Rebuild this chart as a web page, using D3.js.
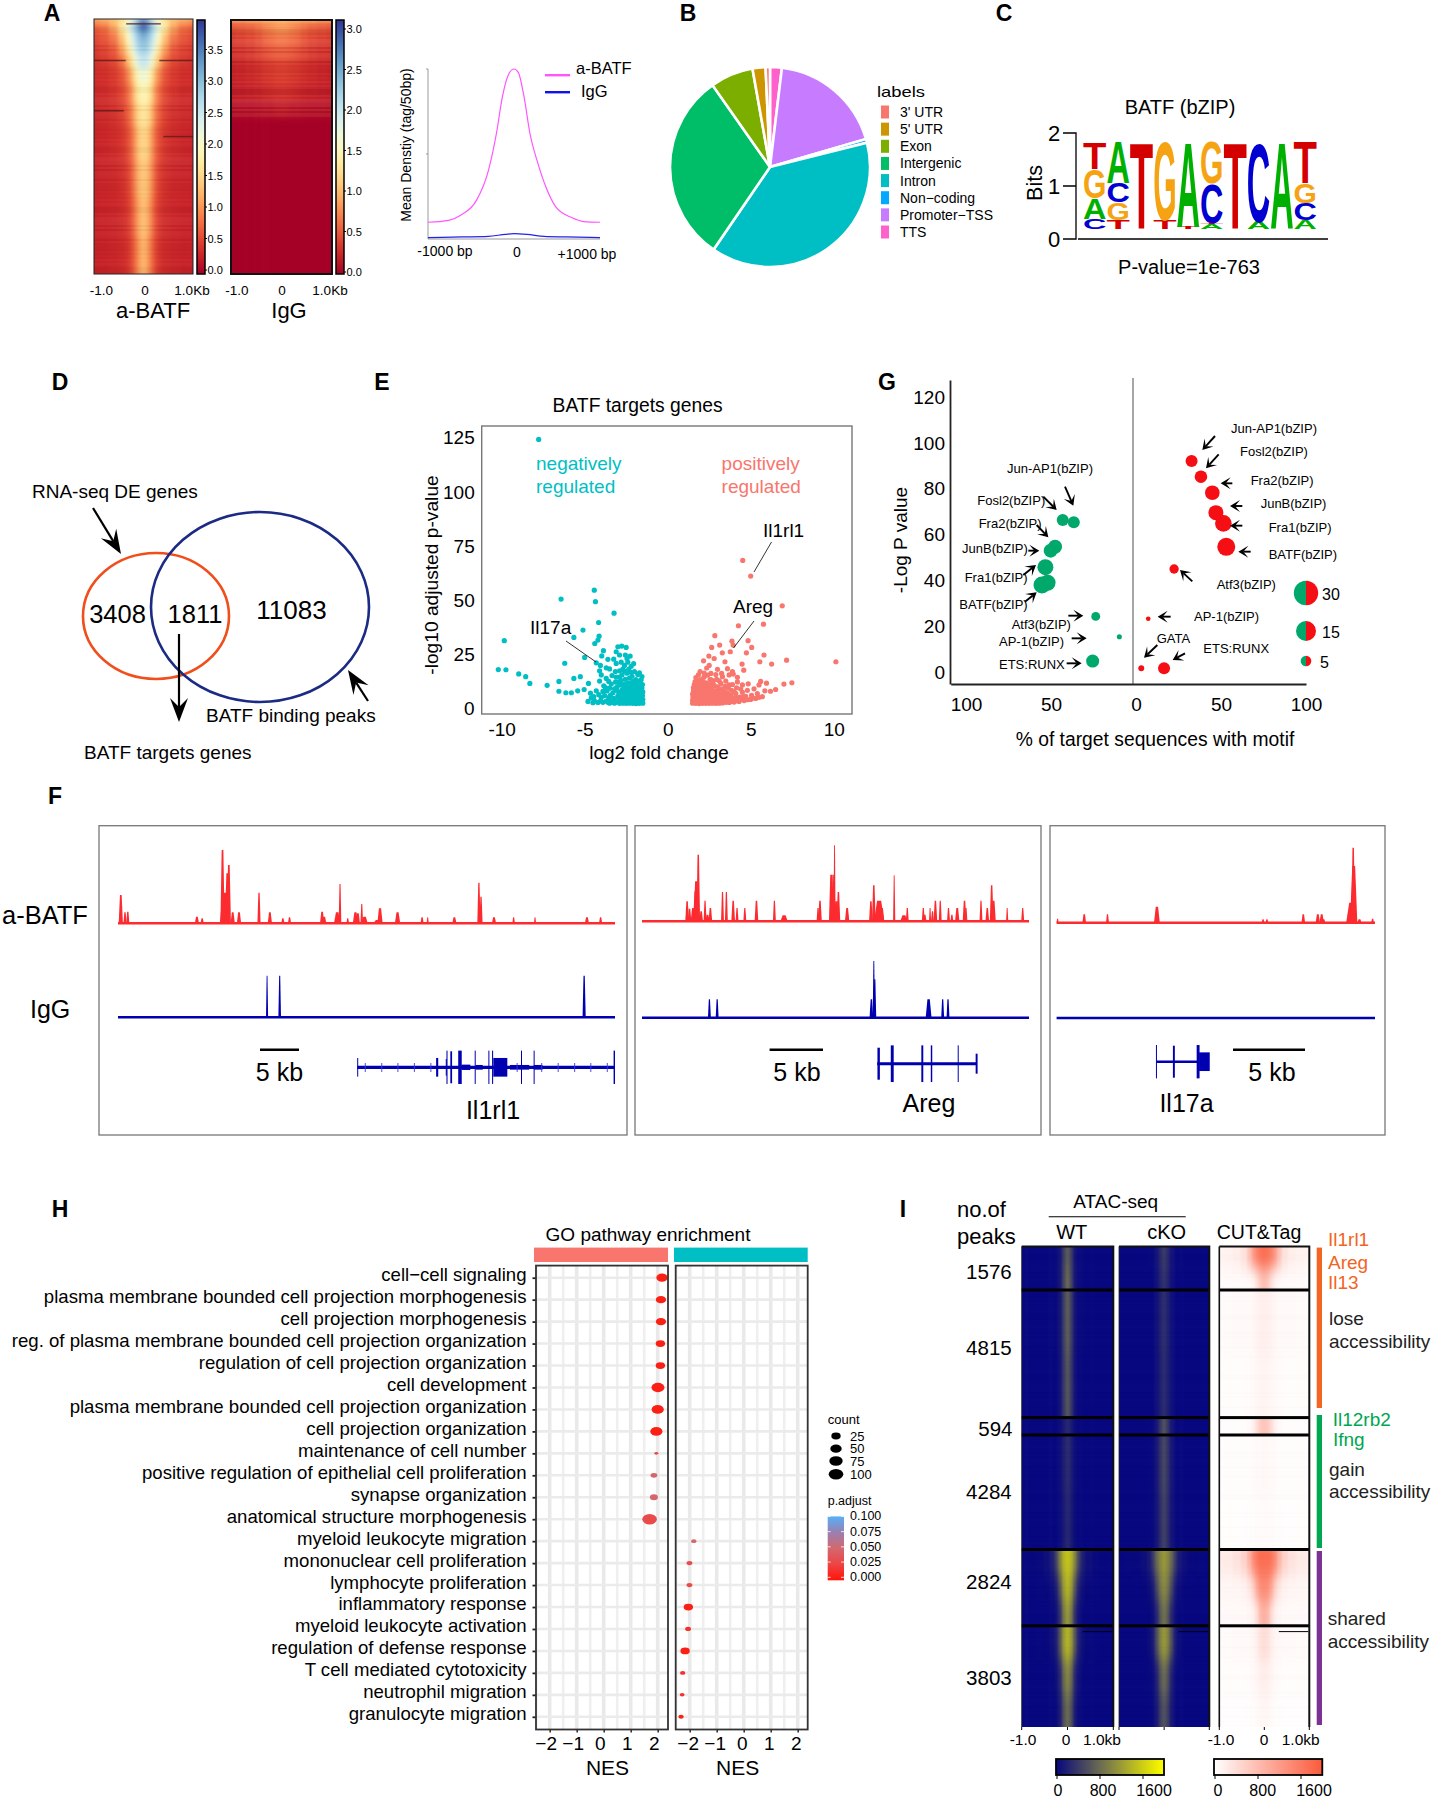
<!DOCTYPE html>
<html><head><meta charset="utf-8">
<script src="https://cdn.jsdelivr.net/npm/d3@7/dist/d3.min.js"></script>
<style>html,body{margin:0;padding:0;background:#fff}svg{display:block}text{font-family:"Liberation Sans",Arial,sans-serif}</style>
</head><body><div id="chart"></div>
<script>
// ---------- DATA ----------
const panelLetters=[["A",52,13],["B",688,13],["C",1004,13],["D",60,382],["E",382,382],["G",887,382],["F",55,796],["H",60,1209],["I",903,1209]];
const heatDist=[0,.08,.16,.24,.32,.44,.6,.8,1];
const batfEdges=[0,.012,.03,.06,.1,.14,.19,.25,.33,.42,.55,.7,.85,1];
const batfRows=[[3.0,2.8,2.4,2.0,1.8,1.5,1.3,1.2,1.1],[3.9,3.6,3.0,2.6,2.2,1.7,1.2,.9,.8],[3.4,3.1,2.8,2.4,2.0,1.5,1.0,.7,.6],[3.0,2.9,2.6,2.2,1.8,1.2,.75,.55,.45],[2.8,2.7,2.4,2.0,1.5,1.0,.6,.45,.38],[2.5,2.4,2.1,1.6,1.2,.75,.5,.4,.34],[2.1,2.0,1.7,1.2,.85,.55,.4,.33,.3],[1.8,1.75,1.45,1.0,.7,.48,.36,.3,.28],[1.6,1.55,1.25,.85,.6,.42,.33,.28,.26],[1.45,1.4,1.05,.72,.5,.36,.3,.26,.24],[1.35,1.25,.95,.62,.42,.32,.27,.25,.23],[1.3,1.15,.85,.55,.38,.3,.26,.24,.22],[1.25,1.05,.75,.5,.34,.28,.25,.23,.22]];
const iggEdges=[0,.012,.05,.1,.16,.25,.32,.38,.4,1];
const iggRows=[[1.0,1.0,.95,.95,.95,.9,.9,.85,.85],[.82,.82,.78,.74,.7,.62,.55,.52,.48],[.66,.66,.62,.6,.56,.48,.42,.38,.35],[.52,.52,.5,.48,.45,.4,.35,.31,.29],[.38,.38,.36,.35,.33,.29,.26,.24,.22],[.29,.29,.28,.26,.25,.22,.21,.19,.18],[.17,.17,.15,.14,.14,.12,.11,.11,.1],[.04,.04,.03,.03,.03,.03,.02,.02,.02],[0,0,0,0,0,0,0,0,0]];
const batfDark=[[.016,-.35,.35],[.16,-1,-.36],[.16,.32,1],[.357,-1,-.4],[.458,.4,1]];
const streakPattern=[.05,-.06,.02,.09,-.03,-.08,.04,0,.07,-.05,.1,-.02,-.07,.03,.06,-.09,.01,.08,-.04,.05,-.1,.02,.06,-.03,.09,-.06,0,.04,-.08,.07];
const profBp=[-1000,-760,-620,-435,-296,-204,-134,-65,0,50,116,185,278,370,486,671,810,1000];
const profBatf=[.197,.22,.28,.457,.811,1.244,1.677,1.933,2,1.96,1.677,1.244,.89,.614,.378,.252,.205,.197];
const profIggBp=[-1000,-600,-300,-100,0,150,350,600,1000];
const profIgg=[.016,.024,.031,.055,.063,.055,.031,.024,.016];
const pieLabels=["3' UTR","5' UTR","Exon","Intergenic","Intron","Non\u2212coding","Promoter\u2212TSS","TTS"];
const pieValues=[.7,2.1,6.9,30.6,38.3,.6,18.5,1.9];
const pieColors=["#F8766D","#CD9600","#7CAE00","#00BE67","#00BFC4","#00A9FF","#C77CFF","#FF61CC"];
const logoPositions=[[["C",.2],["A",.4],["G",.55],["T",.51]],[["T",.18],["G",.33],["C",.37],["A",.8]],[["T",1.66]],[["T",.17],["G",1.5]],[["T",.05],["A",1.63]],[["A",.1],["T",.03],["C",.75],["G",.8]],[["T",1.66]],[["A",.15],["C",1.5]],[["A",1.66]],[["A",.17],["C",.33],["G",.37],["T",.8]]];
const volcanoNeg=[[-7.77,124.2],[-4.42,54.7],[-6.42,50.6],[-4.35,49.4],[-3.23,44.1],[-4.16,39.8],[-5.1,36.3],[-5.65,32.9],[-4.13,33.5],[-4.2,31.7],[-9.84,31.4],[-4.39,30.1],[-5,23.7],[-6.2,21],[-4.3,21.2],[-10.2,18.1],[-9.74,18],[-8.97,16.1],[-8.55,14.8],[-8.3,11.7],[-7.26,10.8],[-6.55,12.6],[-5.65,14],[-5.26,14.8],[-4.77,11.7],[-6.55,8.1],[-6.13,7.4],[-5.8,7.4],[-5.42,8.3],[-5.03,8.9],
[-1.5,2.6],[-1.5,4.3],[-1.52,6.1],[-1.5,7.8],[-1.55,9.6],[-1.52,11.2],[-1.6,13.4],[-1.55,14.9],[-1.7,2.5],[-1.72,3.9],[-1.68,5.4],[-1.74,7],[-1.7,8.8],[-1.76,10.4],[-1.7,12.2],[-1.8,15.8],[-1.9,2.4],[-1.92,4.6],[-1.88,6.3],[-1.94,8.1],[-1.9,9.7],[-1.96,11.6],[-1.92,13.5],[-2,17.2],[-2.1,2.5],[-2.12,3.6],[-2.08,5.2],[-2.14,7.2],[-2.1,8.9],[-2.16,10.6],[-2.1,12.7],[-2.15,15],[-2.3,2.6],[-2.32,4.4],[-2.28,6.2],[-2.34,7.9],[-2.3,10],[-2.36,12],[-2.3,14.2],[-2.2,19.6],[-2.05,20.8],[-2.5,2.5],[-2.52,3.8],[-2.48,5.6],[-2.56,7.4],[-2.5,9.3],[-2.6,11.3],[-2.55,13.6],[-2.45,16.4],[-2.35,18.2],[-2.4,21.5],[-2.7,2.6],[-2.72,4.7],[-2.68,6.6],[-2.75,8.6],[-2.7,10.7],[-2.8,13],[-2.75,15.6],[-2.6,20],[-2.55,24.8],
[-2.9,2.5],[-2.92,4],[-3,6],[-2.95,7.8],[-3.05,10],[-3,12.2],[-3.1,14.6],[-2.9,17.5],[-3.1,20.9],[-2.9,24.8],[-3.1,26.3],[-3,28.6],[-2.77,28.9],[-2.5,28.3],[-2.26,24.3],[-3.2,2.6],[-3.25,4.8],[-3.3,7.4],[-3.2,9.2],[-3.4,11.4],[-3.35,15.3],[-3.5,18.4],[-3.6,22.8],[-3.87,26.8],[-3.97,24.4],[-3.5,2.6],[-3.55,5.2],[-3.7,3.6],[-3.65,8.2],[-3.8,6.1],[-3.9,3],[-3.85,10.6],[-4,15.6],[-4.1,12.8],[-4,5.2],[-4.2,2.9],[-4.3,8.3],[-4.4,3.6],[-4.5,2.8],[-4.6,5],[-4.1,17.5],[-3.7,14],[-3.4,3.5],[-3.05,3.2],[-2.8,5.6],[-2.85,11],[-3.15,17.2],[-3.55,12.6],[-3.9,8],[-4.65,7.2],[-3.25,22.9],[-2.8,21.5],[-2.7,18.3],[-3.7,18.9],[-4.05,20],[-2.45,23.2],
[-1.6,3.3],[-1.6,5],[-1.65,6.8],[-1.62,8.3],[-1.6,10.4],[-1.8,3.2],[-1.82,5.2],[-1.84,6.9],[-1.8,9],[-1.85,11],[-1.85,12.9],[-2,3.1],[-2.02,4.3],[-2,6],[-2.02,7.7],[-2,9.5],[-2.02,11.5],[-2.2,3.3],[-2.22,5],[-2.2,6.8],[-2.24,8.6],[-2.22,11.3],[-2.4,3.2],[-2.42,5],[-2.4,6.9],[-2.44,8.6],[-2.42,11],[-2.6,3.2],[-2.62,5],[-2.6,6.5],[-2.65,9.2],[-2.8,3.3],[-2.82,7.5],[-3.1,4.5],[-3.1,8.6],[-3.35,3],[-3.45,6.2],[-3.6,3],[-3.75,9.8],[-4.05,3.6],[-4.15,6.5],[-4.45,5.6],[-4.8,3.4],[-3.5,9.5],[-3.15,12.3],[-2.9,14.6],[-2.6,17.4],[-2.2,16.8],[-1.7,16.6]];
const volcanoPos=[[4.52,68.4],[5,61.2],[6.9,47.5],[4.26,38.3],[5.77,39],[2.84,33.7],[3.87,31.2],[4.84,31.4],[3.94,29.4],[3.13,29.4],[2.65,28.3],[5.06,28.3],[3.77,26.3],[3.29,25.8],[4.74,25.8],[5.8,24.8],[2.48,24.3],[2.16,22.1],[2.8,23.2],[3.45,21.7],[7.16,22.4],[10.13,21.7],[5.55,21.7],[6.26,20.6],[4.48,20.6],
[1.5,2.6],[1.5,3.9],[1.52,5.4],[1.5,6.8],[1.55,8.2],[1.55,9.7],[1.6,11.1],[1.7,2.5],[1.72,4.3],[1.68,5.9],[1.74,7.6],[1.7,9.2],[1.78,10.8],[1.75,12.6],[1.7,14.4],[1.9,2.4],[1.92,3.7],[1.88,5.1],[1.94,6.7],[1.9,8.4],[1.96,10.1],[1.92,11.9],[1.98,13.5],[1.85,15.6],[1.95,17.2],[2.1,2.5],[2.12,4.1],[2.08,5.8],[2.14,7.3],[2.1,9],[2.16,10.7],[2.12,12.5],[2.18,14.6],[2.3,2.5],[2.32,3.6],[2.28,5.3],[2.34,6.9],[2.3,8.5],[2.36,10.2],[2.3,12],[2.4,15.5],[2.35,18.8],[2.5,2.5],[2.52,4.4],[2.48,6.2],[2.56,7.9],[2.5,9.6],[2.6,11.5],[2.55,13.4],[2.6,16.3],[2.7,2.6],[2.72,3.9],[2.68,5.5],[2.75,7.2],[2.7,8.9],[2.8,10.8],[2.75,12.9],[2.9,2.5],[2.92,4.6],[2.9,6.4],[2.95,8.2],[3,10.1],[2.95,13.6],[2.9,15.8],[3.1,2.6],[3.12,3.8],[3.1,5.5],[3.15,7.3],[3.2,9.2],[3.2,11.7],[3.3,14.8],[3.3,2.7],[3.32,4.5],[3.35,6.5],[3.4,8.4],[3.45,10.4],[3.5,12.8],[3.5,3],[3.55,5.2],[3.6,7.2],[3.65,9.5],[3.7,2.9],[3.75,4.3],[3.8,6.3],[3.85,8.5],[3.9,11.2],[4,3.1],[4,5],[4.1,7.1],[4.15,9.7],[4.2,12.4],[4.3,3.4],[4.35,5.4],[4.5,7.6],[4.6,3.8],[4.7,5.7],[4.8,8.5],[4.85,11.5],[5,4.3],[5.05,6.2],[5.2,9.2],[5.3,4.8],[5.4,7],[5.5,11],[5.6,12.6],[5.7,5.6],[5.85,8.3],[5.95,11.8],[6.19,8.1],[6.5,8.9],[7,11.4],[7.48,12],[3.9,17.1],[3.7,15.6],[3.6,18.5],[3.95,16],[3,18.2],[2.5,20],[4.58,17.8],[3.25,16.3],[4.2,14.5],[4.5,11],
[1.6,3.2],[1.6,4.6],[1.62,6.2],[1.6,7.7],[1.62,9],[1.8,3.1],[1.82,4.8],[1.8,6.5],[1.84,8],[1.8,10],[2,3.1],[2,4.6],[2.02,6.1],[2,7.7],[2.02,9.3],[2,11],[2.2,3.1],[2.2,4.6],[2.22,6.4],[2.24,8],[2.2,9.8],[2.25,11.4],[2.4,3.2],[2.42,4.8],[2.42,6.1],[2.4,7.8],[2.45,9.2],[2.45,11],[2.6,3.1],[2.62,4.8],[2.6,6.4],[2.65,8.2],[2.65,10],[2.8,3.1],[2.82,4.6],[2.8,6.3],[2.85,8],[3,3.2],[3,4.7],[3.02,6.5],[3.05,8.6],[3.2,3.2],[3.22,4.7],[3.25,6.3],[3.3,8],[3.45,3.8],[3.5,6],[3.6,4],[3.75,3.3],[3.9,4.5],[4.1,3.7],[4.2,5],[4.4,4.4],[4.55,5.5],[4.8,4.2],[5.1,5],[5.5,5.3],[3.1,12.9],[2.6,13.5],[2.2,16.5],[1.65,12.5],[3.7,11],[4,7.8],[4.4,9.1]];
const motifKO=[[-36.6,65.4,6.5],[-43.1,66.4,6.5],[-47.6,54.7,8.6],[-50.2,53,8.6],[-53.3,45.8,10.7],[-52,39,10.7],[-55.3,38,11.8],[-23.7,24.3,4.2],[-9.8,15.4,2.4],[-25.5,4.8,7.6]];
const motifWT=[[32.7,92.1,6.5],[38.2,85.3,7.1],[44.9,78.3,9.3],[47,69.6,9.7],[51.4,64.9,11.4],[53.1,54.7,12.9],[22.4,45,4.4],[7.2,23.3,2.2],[3.1,1.7,2.8],[16.5,1.7,6.5]];
const motifLegend=[30,15,5];
const t1Red=[[88,85,8],[100,33,6],[108,35,6],[305,20,8],[320,15,6],[378,220,8],[384,92,18],[392,150,10],[396,175,8],[407,33,8],[425,33,8],[482,92,6],[513,33,8],[550,15,6],[569,18,6],[662,35,8],[668,20,8],[705,33,12],[713,118,5],[735,15,5],[757,33,10],[764,30,8],[775,58,5],[783,20,12],[827,45,10],[820,10,16],[877,33,10],[947,18,6],[963,18,4],[1039,18,8],[1109,122,6],[1115,80,6],[1152,18,8],[1208,18,5],[1269,18,4],[1417,18,8],[1456,18,6]];
const t1Blue=[[505,125,4],[541,125,5],[1409,125,6]];
const t2Red=[[118,60,5],[123,38,5],[130,40,6],[135,90,6],[137,120,8],[141,200,5],[147,30,5],[155,62,4],[160,20,6],[166,40,5],[191,88,4],[199,88,4],[213,62,5],[221,40,4],[237,40,4],[261,62,5],[298,62,4],[318,18,10],[388,40,4],[392,62,5],[415,140,6],[419,140,5],[422,228,3],[430,88,5],[426,60,8],[448,40,6],[497,60,5],[503,108,5],[514,62,14],[520,40,6],[545,138,3],[565,18,10],[572,40,4],[605,40,4],[608,20,5],[619,40,3],[624,30,4],[630,62,5],[640,62,4],[657,40,4],[664,20,4],[675,40,6],[690,62,5],[693,40,4],[724,62,4],[737,40,5],[746,108,5],[750,62,6],[778,40,3],[810,40,4]];
const t2Blue=[[164,55,4],[180,55,4],[498,55,5],[503,170,3],[505,115,4],[616,55,8],[645,55,4],[656,55,4]];
const t3Red=[[882,12,3],[937,25,5],[985,25,4],[1087,48,8],[1306,10,4],[1314,10,4],[1389,25,5],[1419,25,6],[1427,25,6],[1431,10,5],[1488,60,14],[1493,170,10],[1492,225,5],[1505,10,6],[1532,12,4]];
const gene1Exons=[[763,28,2],[990,28,6],[1016,25,3],[1018,50,3],[1030,48,5],[1055,50,10],[1098,50,2],[1137,50,2],[1148,50,3],[1230,50,2],[1266,50,2],[1495,50,4],[1072,8,25],[1110,7,20],[1170,28,40],[1225,7,55],[1278,7,25]];
const gene1Chevrons=[785,832,878,925,972,1218,1288,1335,1382,1428,1475];
const gene2Exons=[[513,48,5],[541,55,6],[603,55,4],[622,55,3],[677,55,2],[715,30,4]];
const gene3Exons=[[1086,50,2],[1122,48,4],[1172,50,6],[1185,28,22]];
const goTerms=["cell\u2212cell signaling","plasma membrane bounded cell projection morphogenesis","cell projection morphogenesis","reg. of plasma membrane bounded cell projection organization","regulation of cell projection organization","cell development","plasma membrane bounded cell projection organization","cell projection organization","maintenance of cell number","positive regulation of epithelial cell proliferation","synapse organization","anatomical structure morphogenesis","myeloid leukocyte migration","mononuclear cell proliferation","lymphocyte proliferation","inflammatory response","myeloid leukocyte activation","regulation of defense response","T cell mediated cytotoxicity","neutrophil migration","granulocyte migration"];
const goNES=[2.16,2.12,2.12,2.1,2.1,2.01,2.0,1.95,1.95,1.86,1.86,1.7,-1.85,-2.01,-2.01,-2.05,-2.06,-2.17,-2.26,-2.28,-2.32];
const goCount=[50,35,35,25,25,70,60,60,5,15,20,100,10,12,12,25,12,25,10,8,10];
const goP=[.006,.006,.006,.006,.006,.006,.006,.006,.03,.05,.05,.03,.05,.03,.03,.006,.015,.006,.015,.015,.006];
const nesTicks=[-2,-1,0,1,2];
const countLegend=[25,50,75,100];
const padjLegend=[.1,.075,.05,.025,0];
const iBandEdges=[1246.4,1290,1417.6,1435,1549.5,1625.8,1727];
const iPeaks=[1576,4815,594,4284,2824,3803];
const iWT=[[[600,380,100,25,5,0,0,0,0],[700,430,110,25,5,0,0,0,0]],[[620,380,95,20,5,0,0,0,0],[560,340,80,15,0,0,0,0,0]],[[230,140,45,10,0,0,0,0,0]],[[260,160,50,12,0,0,0,0,0],[230,140,45,10,0,0,0,0,0]],[[1300,1200,880,450,170,60,20,10,5],[1200,1020,560,180,55,15,5,0,0],[1000,780,300,70,15,0,0,0,0]],[[1200,1020,560,180,55,15,5,0,0],[880,680,240,60,10,0,0,0,0],[700,510,150,30,5,0,0,0,0]]];
const iKO=[[[360,250,80,20,5,0,0,0,0],[300,210,60,12,0,0,0,0,0]],[[280,190,65,15,0,0,0,0,0],[260,175,60,12,0,0,0,0,0]],[[520,340,105,25,5,0,0,0,0]],[[450,310,105,28,5,0,0,0,0],[410,280,90,20,5,0,0,0,0]],[[1000,900,680,380,140,50,15,5,0],[900,770,450,155,45,10,0,0,0],[740,570,215,55,10,0,0,0,0]],[[1000,860,500,155,45,10,0,0,0],[700,530,190,45,5,0,0,0,0],[530,390,120,28,5,0,0,0,0]]];
const iCT=[[[1500,1450,1300,1050,650,300,180,130,110],[650,550,300,120,60,50,40,40,35]],[[160,150,120,80,60,50,50,45,45],[110,100,80,60,40,35,30,30,30]],[[600,550,350,150,60,35,25,25,25]],[[70,65,55,45,35,30,25,25,20],[45,42,38,30,25,20,15,15,15]],[[1500,1500,1400,1200,800,450,300,220,200],[1200,1150,900,500,250,120,90,80,80],[800,700,350,150,80,60,50,50,50]],[[350,300,180,100,70,50,50,45,45],[180,160,100,60,40,30,30,30,30],[90,80,50,30,25,20,20,20,20]]];

// ---------- HELPERS ----------
const svg=d3.select("#chart").append("svg").attr("width",1435).attr("height",1800).attr("viewBox","0 0 1435 1800");
const defs=svg.append("defs");
function T(x,y,s,o={}){const t=(o.g||svg).append("text").attr("x",x).attr("y",y).attr("dominant-baseline","central").attr("font-size",o.size||18).attr("text-anchor",o.anchor||"start").attr("fill",o.fill||"#000").text(s);
 if(o.weight)t.attr("font-weight",o.weight);if(o.rotate!==undefined)t.attr("transform",`rotate(${o.rotate} ${x} ${y})`);if(o.len)t.attr("textLength",o.len).attr("lengthAdjust","spacingAndGlyphs");return t;}
function arrow(x1,y1,x2,y2,o={}){const sw=o.stem||1.6,hl=o.hl||9,hw=o.hw||5,n=o.notch||5;const a=Math.atan2(y2-y1,x2-x1),c=Math.cos(a),s=Math.sin(a);
 const P=(d,w)=>[x2-d*c-w*s,y2-d*s+w*c];
 svg.append("line").attr("x1",x1).attr("y1",y1).attr("x2",P(n,0)[0]).attr("y2",P(n,0)[1]).attr("stroke","#000").attr("stroke-width",sw);
 svg.append("path").attr("d","M"+[[x2,y2],P(hl,hw),P(n,0),P(hl,-hw)].join("L")+"Z").attr("fill","#000");}
let uid=0;
const blurs={};
function blurId(sx,sy){const k=`b${sx}_${sy}`.replace(/\./g,"p");if(!blurs[k]){blurs[k]=1;const f=defs.append("filter").attr("id",k).attr("x","-30%").attr("y","-30%").attr("width","160%").attr("height","160%").attr("color-interpolation-filters","sRGB");f.append("feGaussianBlur").attr("stdDeviation",`${sx} ${sy}`);}return k;}
function heat(x0,x1,y0,y1,edges,rows,color,blur){
 const id="c"+(uid++);defs.append("clipPath").attr("id",id).append("rect").attr("x",x0).attr("y",y0).attr("width",x1-x0).attr("height",y1-y0);
 const g=svg.append("g").attr("clip-path",`url(#${id})`).append("g").attr("filter",`url(#${blurId(blur[0],blur[1])})`);
 const kb=d3.scaleLinear([-1,1],[x0,x1]),fy=d3.scaleLinear([0,1],[y0,y1]);
 const cols=[...heatDist].reverse().map(d=>-d).concat(heatDist.slice(1));
 const cuts=cols.slice(1).map((d,i)=>(d+cols[i])/2);
 const idx=i=>i<heatDist.length?heatDist.length-1-i:i-heatDist.length+1;
 rows.forEach((r,ri)=>{
  const top=ri===0?y0-40:fy(edges[ri]),bot=ri===rows.length-1?y1+40:fy(edges[ri+1]);
  cols.forEach((c,ci)=>{const l=ci===0?x0-40:kb(cuts[ci-1]),rr=ci===cols.length-1?x1+40:kb(cuts[ci]);
   g.append("rect").attr("x",l).attr("y",top).attr("width",rr-l+.6).attr("height",bot-top+.6).attr("fill",color(r[idx(ci)]));});
 });
}
function streaks(x0,x1,y0,y1,strength,step){const g=svg.append("g");d3.range(y0,y1,step).forEach((y,i)=>{const a=streakPattern[(i*7)%streakPattern.length]*strength;if(!a)return;
 g.append("rect").attr("x",x0).attr("y",y).attr("width",x1-x0).attr("height",step).attr("fill",a>0?"#fff":"#000").attr("opacity",Math.abs(a));});}
function grad(color,dom,horizontal){const id="g"+(uid++);const gr=defs.append("linearGradient").attr("id",id).attr("x1",0).attr("y1",horizontal?0:1).attr("x2",horizontal?1:0).attr("y2",0);
 d3.range(0,1.001,.05).forEach(t=>gr.append("stop").attr("offset",t).attr("stop-color",color(dom[0]+t*(dom[1]-dom[0]))));return `url(#${id})`;}

panelLetters.forEach(([l,x,y])=>T(x,y,l,{size:23,weight:"bold",anchor:"middle"}));

// ---------- A ----------
const cA1=v=>d3.interpolateRdYlBu(Math.max(0,Math.min(1,v/3.9)));
const cA2=v=>d3.interpolateRdYlBu(Math.max(0,Math.min(1,v/3.1)));
heat(94,193,19,274,batfEdges,batfRows,v=>cA1(v+.04),[2,3]);
streaks(94,193,19,274,.45,2);
batfDark.forEach(([f,a,b])=>svg.append("rect").attr("x",143.5+a*49.5).attr("width",(b-a)*49.5).attr("y",19+f*255).attr("height",1.5).attr("fill","#5a1a1a").attr("opacity",.75));
svg.append("rect").attr("x",94).attr("y",19).attr("width",99).attr("height",255).attr("fill","none").attr("stroke","#222").attr("stroke-width",1);
heat(231,332,20,274,iggEdges,iggRows,cA2,[1.5,2]);
streaks(231,332,21,116,.8,2);
svg.append("rect").attr("x",231).attr("y",20).attr("width",101).attr("height",254).attr("fill","none").attr("stroke","#111").attr("stroke-width",2);
function colorbarA(x,y0,y1,color,max,ticks,scale){
 svg.append("rect").attr("x",x).attr("y",y0).attr("width",8).attr("height",y1-y0).attr("fill",grad(color,[0,max])).attr("stroke","#000").attr("stroke-width",1.5);
 ticks.forEach(t=>{svg.append("line").attr("x1",x+8).attr("x2",x+10).attr("y1",scale(t)).attr("y2",scale(t)).attr("stroke","#000");
  T(x+10.5,scale(t),t.toFixed(1),{size:11});});}
colorbarA(197,20,274,cA1,3.9,[0,.5,1,1.5,2,2.5,3,3.5],d3.scaleLinear([0,4],[270,18]));
colorbarA(336,20,274,cA2,3.1,[0,.5,1,1.5,2,2.5,3],d3.scaleLinear([0,3],[272,29]));
const kbLabels=["-1.0","0","1.0Kb"];
const kbA1=d3.scaleOrdinal(kbLabels,[101.5,145,192]),kbA2=d3.scaleOrdinal(kbLabels,[237,282,330]);
kbLabels.forEach(l=>{T(kbA1(l),290,l,{size:13.5,anchor:"middle"});T(kbA2(l),290,l,{size:13.5,anchor:"middle"});});
T(153,310,"a-BATF",{size:22,anchor:"middle"});T(289,310,"IgG",{size:22,anchor:"middle"});
const pX=d3.scaleLinear([-1000,1000],[428,600]),pY=d3.scaleLinear([0,2],[239,69]);
const pLine=d3.line().x(d=>pX(d[0])).y(d=>pY(d[1])).curve(d3.curveMonotoneX);
svg.append("path").attr("d",`M428,69H426M428,69V239H600M426,154H428`).attr("fill","none").attr("stroke","#999").attr("stroke-width",1);
svg.append("path").attr("d",pLine(d3.zip(profBp,profBatf))).attr("fill","none").attr("stroke","#ff55ff").attr("stroke-width",1.2);
svg.append("path").attr("d",pLine(d3.zip(profIggBp,profIgg))).attr("fill","none").attr("stroke","#2222ee").attr("stroke-width",1.2);
T(406,145,"Mean Denstiy (tag/50bp)",{size:14,anchor:"middle",rotate:-90});
T(445,251,"-1000 bp",{size:14,anchor:"middle"});T(517,252,"0",{size:14,anchor:"middle"});T(587,254,"+1000 bp",{size:14,anchor:"middle"});
svg.append("rect").attr("x",545).attr("y",74).attr("width",25).attr("height",2.4).attr("fill","#ff55ff");
svg.append("rect").attr("x",545).attr("y",91).attr("width",25).attr("height",2.4).attr("fill","#1111ee");
T(576,68,"a-BATF",{size:16.5});T(581,91,"IgG",{size:16.5});

// ---------- B ----------
const pieData=d3.pie().sort(null).startAngle(0).endAngle(2*Math.PI)(pieValues.slice().reverse());
const pieIdx=pieValues.map((v,i)=>i).reverse();
const arc=d3.arc().innerRadius(0).outerRadius(100);
svg.append("g").attr("transform","translate(770,167)").selectAll("path").data(pieData).join("path").attr("d",arc).attr("fill",(d,i)=>pieColors[pieIdx[i]]).attr("stroke","#fff").attr("stroke-width",2.6);
T(877,91,"labels",{size:15,len:48});
const legY=d3.scaleLinear([0,7],[112,232]);
pieLabels.forEach((l,i)=>{svg.append("rect").attr("x",881).attr("y",legY(i)-6.5).attr("width",8).attr("height",13).attr("fill",pieColors[i]);T(900,legY(i),l,{size:14});});

// ---------- C ----------
T(1180,107,"BATF (bZIP)",{size:20,anchor:"middle"});
const lY=d3.scaleLinear([0,2],[239,133]);
const logoX=d3.scaleBand(d3.range(10),[1083,1317]).paddingInner(0);
const logoColor={T:"#d40000",G:"#f5a313",A:"#00b000",C:"#0000d0"},logoAdv={T:.611,G:.778,A:.722,C:.722};
logoPositions.forEach((stack,i)=>{let b=.18;stack.forEach(([l,h])=>{
 const by=lY(b),hp=lY(0)-lY(h);
 svg.append("text").attr("text-anchor","middle").attr("font-size",100).attr("font-weight","bold").attr("fill",logoColor[l])
  .attr("transform",`translate(${logoX(i)+logoX.bandwidth()/2},${by}) scale(${logoX.bandwidth()/(logoAdv[l]*100)},${hp/72})`).text(l);b+=h;});});
svg.append("path").attr("d",`M1063,${lY(2)}H1076V${lY(0)}H1063M1063,${lY(1)}H1076M1078,${lY(0)}H1328`).attr("fill","none").attr("stroke","#000").attr("stroke-width",1.3);
[2,1,0].forEach(v=>T(1054,lY(v),v,{size:22,anchor:"middle"}));
T(1035,183,"Bits",{size:21.5,anchor:"middle",rotate:-90});
T(1189,267,"P-value=1e-763",{size:20,anchor:"middle"});

// ---------- D ----------
svg.append("ellipse").attr("cx",156).attr("cy",616).attr("rx",73).attr("ry",63).attr("fill","none").attr("stroke","#f04e1a").attr("stroke-width",2.6);
svg.append("ellipse").attr("cx",260).attr("cy",607).attr("rx",109).attr("ry",95).attr("fill","none").attr("stroke","#1b2a85").attr("stroke-width",2.6);
T(117.5,614,"3408",{size:25.5,anchor:"middle"});T(195,614,"1811",{size:25.5,anchor:"middle"});T(291.5,610,"11083",{size:26,anchor:"middle"});
T(32,491,"RNA-seq DE genes",{size:19});T(206,715,"BATF binding peaks",{size:19});T(84,752,"BATF targets genes",{size:19});
arrow(93,508,121,554,{stem:2.2,hl:24,hw:9,notch:15});arrow(179,634,179,722,{stem:2.2,hl:24,hw:9,notch:15});arrow(368,701,348,670,{stem:2.2,hl:24,hw:9,notch:15});

// ---------- E ----------
T(637.6,405,"BATF targets genes",{size:19.3,anchor:"middle"});
const vx=d3.scaleLinear([-11.2,11.1],[481.7,852]),vy=d3.scaleLinear([-2.4,130.4],[714,426]);
svg.append("rect").attr("x",481.7).attr("y",426).attr("width",370.3).attr("height",288).attr("fill","none").attr("stroke","#777").attr("stroke-width",1.4);
const axE=svg.append("g").attr("transform","translate(0,714)").call(d3.axisBottom(vx).tickValues([-10,-5,0,5,10]).tickSize(0).tickPadding(9).tickFormat(d3.format("d")));
const ayE=svg.append("g").attr("transform","translate(481.7,0)").call(d3.axisLeft(vy).tickValues([0,25,50,75,100,125]).tickSize(0).tickPadding(7));
[axE,ayE].forEach(a=>{a.select(".domain").remove();a.selectAll("text").attr("font-size",19).attr("font-family","Liberation Sans").attr("fill","#000");});
axE.selectAll("text").text(d=>d<0?"-"+Math.abs(d):d);
svg.append("g").selectAll("circle").data(volcanoNeg).join("circle").attr("cx",d=>vx(d[0])).attr("cy",d=>vy(d[1])).attr("r",2.6).attr("fill","#00BFC4");
svg.append("g").selectAll("circle").data(volcanoPos).join("circle").attr("cx",d=>vx(d[0])).attr("cy",d=>vy(d[1])).attr("r",2.6).attr("fill","#F8766D");
T(431,575,"-log10 adjusted p-value",{size:19.2,anchor:"middle",rotate:-90});
T(659,752,"log2 fold change",{size:19,anchor:"middle"});
T(536,463,"negatively",{size:19,fill:"#00BFC4"});T(536,486,"regulated",{size:19,fill:"#00BFC4"});
T(721.6,463,"positively",{size:19,fill:"#F8766D"});T(721.6,486,"regulated",{size:19,fill:"#F8766D"});
T(763,530,"Il1rl1",{size:19});T(733,606,"Areg",{size:19});T(530,627,"Il17a",{size:19});
[[771.5,542,754,572],[754,621,733.5,648],[566,641,596,662]].forEach(([a,b,c,d])=>svg.append("line").attr("x1",a).attr("y1",b).attr("x2",c).attr("y2",d).attr("stroke","#000").attr("stroke-width",.8));

// ---------- G ----------
const gx=d3.scaleLinear([-109,100],[950.7,1306]),gy=d3.scaleLinear([-5.2,127.5],[684,380]);
const gR=d3.scaleLinear([0,5,15,30],[0,5.3,10,12.2]);
svg.append("line").attr("x1",1133).attr("x2",1133).attr("y1",378).attr("y2",684).attr("stroke","#888").attr("stroke-width",1.5);
const ayG=svg.append("g").attr("transform","translate(950,0)").call(d3.axisLeft(gy).tickValues(d3.range(0,121,20)).tickSize(0).tickPadding(5));
const axG=svg.append("g").attr("transform","translate(0,684)").call(d3.axisBottom(gx).tickValues([-100,-50,0,50,100]).tickSize(0).tickPadding(14).tickFormat(d=>Math.abs(d)));
[ayG,axG].forEach(a=>{a.select(".domain").attr("stroke","#222").attr("stroke-width",1.8);a.selectAll("text").attr("font-size",19).attr("font-family","Liberation Sans").attr("fill","#000");});
svg.append("g").selectAll("circle").data(motifKO).join("circle").attr("cx",d=>gx(d[0])).attr("cy",d=>gy(d[1])).attr("r",d=>gR(d[2])).attr("fill","#00A86B");
svg.append("g").selectAll("circle").data(motifWT).join("circle").attr("cx",d=>gx(d[0])).attr("cy",d=>gy(d[1])).attr("r",d=>gR(d[2])).attr("fill","#f50f14");
T(900.7,540,"-Log P value",{size:19,anchor:"middle",rotate:-90});
T(1155,739,"% of target sequences with motif",{size:19.3,anchor:"middle"});
const z4=(x,y)=>[860+x/3,360+y/3];
[["Jun-AP1(bZIP)",1113,205],["Fosl2(bZIP)",1140,275],["Fra2(bZIP)",1172,362],["JunB(bZIP)",1202,430],["Fra1(bZIP)",1226,503],["BATF(bZIP)",1226,583],["Atf3(bZIP)",1070,674],["AP-1(bZIP)",1002,768],["GATA",890,835],["ETS:RUNX",1030,866],["Jun-AP1(bZIP)",441,325],["Fosl2(bZIP)",352,421],["Fra2(bZIP)",356,490],["JunB(bZIP)",306,565],["Fra1(bZIP)",314,651],["BATF(bZIP)",298,733],["Atf3(bZIP)",455,794],["AP-1(bZIP)",417,843],["ETS:RUNX",417,912]].forEach(([s,x,y])=>{const p=z4(x,y);T(p[0],p[1],s,{size:13});});
[[1065,228,1027,270],[1076,283,1038,325],[1117,370,1082,370],[1147,438,1110,438],[1147,497,1110,497],[1172,575,1135,575],[997,664,960,630],[932,770,893,770],[892,855,852,893],[975,880,938,900],[615,380,640,437],[550,410,590,450],[530,495,565,532],[505,572,538,572],[490,645,528,615],[495,725,530,697],[625,767,670,767],[635,835,680,835],[620,910,665,910]].forEach(([a,b,c,d])=>{const p=z4(a,b),q=z4(c,d);arrow(p[0],p[1],q[0],q[1],{stem:1.9,hl:10,hw:6,notch:5});});
const gLegY=d3.scaleOrdinal(motifLegend,[593,631,661]);
motifLegend.forEach(v=>{const r=gR(v),g=svg.append("g").attr("transform",`translate(1306,${gLegY(v)})`);
 g.append("path").attr("d",d3.arc()({innerRadius:0,outerRadius:r,startAngle:-Math.PI,endAngle:0})).attr("fill","#00A86B");
 g.append("path").attr("d",d3.arc()({innerRadius:0,outerRadius:r,startAngle:0,endAngle:Math.PI})).attr("fill","#f50f14");
 T(v===5?1320:1322,gLegY(v)+1,v,{size:16});});

// ---------- F ----------
[[99,528],[635,406],[1050,335]].forEach(([x,w])=>svg.append("rect").attr("x",x).attr("y",825.7).attr("width",w).attr("height",309.3).attr("fill","none").attr("stroke","#777").attr("stroke-width",1.3));
T(2,915,"a-BATF",{size:25.5});T(30,1009,"IgG",{size:25});
const RED="#fb2b2f",BLUE="#0000b0";
function track(dom,range,base,peaks,color,lw){
 const x=d3.scaleLinear(dom,range),y=d3.scaleLinear([0,300],[base,base-100]);
 const a=d3.area().x(d=>x(d[0])).y0(base).y1(d=>y(d[1]));
 svg.append("g").selectAll("path").data(peaks).join("path").attr("fill",color).attr("d",([c,h,w])=>a([[c-w*.75,0],[c-w*.3,h],[c+w*.3,h],[c+w*.75,0]]));
 svg.append("line").attr("x1",range[0]).attr("x2",range[1]).attr("y1",base).attr("y2",base).attr("stroke",color).attr("stroke-width",lw);
 return x;}
const x1=track([80,1497],[118,615],923.3,t1Red,RED,2.4);track([80,1497],[118,615],1017.3,t1Blue,BLUE,2.4);
const x2=track([25,823],[642,1029],921.3,t2Red,RED,2.4);track([25,823],[642,1029],1017.7,t2Blue,BLUE,2.4);
const x3=track([880,1537],[1056.6,1375],922.7,t3Red,RED,2.6);track([880,1537],[1056.6,1375],1018,[],BLUE,2.6);
function gene(x,cy,from,to,exons,lw){
 svg.append("line").attr("x1",x(from)).attr("x2",x(to)).attr("y1",cy).attr("y2",cy).attr("stroke",BLUE).attr("stroke-width",lw);
 svg.append("g").selectAll("rect").data(exons).join("rect").attr("x",d=>x(d[0]-d[2]/2)).attr("width",d=>Math.max(1,x(d[0]+d[2]/2)-x(d[0]-d[2]/2))).attr("y",d=>cy-d[1]/3).attr("height",d=>2*d[1]/3).attr("fill",BLUE);}
gene(x1,1067.3,762,1495,gene1Exons,3.2);
gene1Chevrons.forEach(c=>svg.append("line").attr("x1",x1(c)).attr("x2",x1(c)).attr("y1",1063).attr("y2",1072).attr("stroke","#3a3ae0").attr("stroke-width",.9));
gene(x2,1063.7,510,715,gene2Exons,3);gene(x3,1061.7,1086,1170,gene3Exons,2.4);
[[260,299,279.5],[769.6,823,797],[1233,1305,1272]].forEach(([a,b,c])=>{svg.append("line").attr("x1",a).attr("x2",b).attr("y1",1049.7).attr("y2",1049.7).attr("stroke","#000").attr("stroke-width",2.6);T(c,1072,"5 kb",{size:25,anchor:"middle"});});
T(493,1110,"Il1rl1",{size:25,anchor:"middle"});T(929,1103,"Areg",{size:25,anchor:"middle"});T(1186.5,1103,"Il17a",{size:25,anchor:"middle"});

// ---------- H ----------
T(648,1234.4,"GO pathway enrichment",{size:19,anchor:"middle"});
const hTop=1265.6,hBot=1729.5;
const goY=d3.scalePoint(goTerms,[1277.7,1716.8]);
const panelL={x0:536,x1:668,zero:603.7,dx:-4,fill:"#F8766D",strip:534},panelR={x0:675.7,x1:807.7,zero:743.7,dx:-2,fill:"#00BFC4",strip:674};
const goSize=d3.scaleLinear([5,25,50,75,100],[2,4.7,5.7,6.7,7.3]);
const goColor=d3.scaleLinear([0,.025,.05,.075,.1],["#ff1408","#ee4444","#d2686e","#9a80b0","#56b1f7"]);
[panelL,panelR].forEach((p,pi)=>{
 const x=d3.scaleLinear([-1,1],[p.zero-27,p.zero+27]);
 svg.append("rect").attr("x",p.strip).attr("y",1247.6).attr("width",p.x1-p.strip).attr("height",14.4).attr("fill",p.fill);
 const g=svg.append("g");
 d3.range(-2.5,2.51,1).forEach(v=>{if(x(v)>p.x0&&x(v)<p.x1)g.append("line").attr("x1",x(v)).attr("x2",x(v)).attr("y1",hTop).attr("y2",hBot).attr("stroke","#efefef").attr("stroke-width",2.6);});
 nesTicks.forEach(v=>g.append("line").attr("x1",x(v)).attr("x2",x(v)).attr("y1",hTop).attr("y2",hBot).attr("stroke","#e9e9e9").attr("stroke-width",3.6));
 goTerms.forEach(t=>g.append("line").attr("x1",p.x0).attr("x2",p.x1).attr("y1",goY(t)).attr("y2",goY(t)).attr("stroke","#ebebeb").attr("stroke-width",2.6));
 const ax=svg.append("g").attr("transform",`translate(0,${hBot})`).call(d3.axisBottom(x).tickValues(nesTicks).tickSize(3).tickPadding(4).tickFormat(d=>d<0?"\u2212"+Math.abs(d):d));
 ax.select(".domain").remove();ax.selectAll("line").attr("stroke","#333").attr("stroke-width",1.6);
 ax.selectAll("text").attr("font-size",19).attr("font-family","Liberation Sans").attr("fill","#000").attr("dx",p.dx);
 T((p.x0+p.x1)/2+(pi?-4:5.5),1767,"NES",{size:21,anchor:"middle"});
 const dots=goTerms.map((t,i)=>({t,n:goNES[i],c:goCount[i],p:goP[i]})).filter(d=>pi?d.n<0:d.n>0);
 svg.append("g").selectAll("ellipse").data(dots).join("ellipse").attr("cx",d=>x(d.n)).attr("cy",d=>goY(d.t)).attr("rx",d=>goSize(d.c)).attr("ry",d=>goSize(d.c)*.72).attr("fill",d=>goColor(d.p));
 svg.append("rect").attr("x",p.x0).attr("y",hTop).attr("width",p.x1-p.x0).attr("height",hBot-hTop).attr("fill","none").attr("stroke","#333").attr("stroke-width",1.8);
});
const ayH=svg.append("g").attr("transform","translate(535.5,0)").call(d3.axisLeft(goY).tickSize(3).tickPadding(7));
ayH.select(".domain").remove();ayH.selectAll("line").attr("stroke","#222").attr("stroke-width",1.8);
ayH.selectAll("text").attr("font-size",18.6).attr("font-family","Liberation Sans").attr("fill","#000").attr("y",-3).attr("x",-9);
T(827.7,1419.8,"count",{size:13});
const cLegY=d3.scaleOrdinal(countLegend,[1436,1448.7,1461,1474.3]);
countLegend.forEach(c=>{svg.append("ellipse").attr("cx",836).attr("cy",cLegY(c)).attr("rx",goSize(c)).attr("ry",goSize(c)*.72).attr("fill","#000");T(850,cLegY(c),c,{size:13});});
T(827.7,1500.6,"p.adjust",{size:12.5});
svg.append("rect").attr("x",827.7).attr("y",1516.4).attr("width",16.3).attr("height",63.9).attr("fill",grad(goColor,[0,.1]));
const pLegY=d3.scaleLinear([0,.1],[1577.3,1516.4]);
padjLegend.forEach(v=>{T(850,pLegY(v),v.toFixed(3),{size:12.5});
 svg.append("path").attr("d",`M827.7,${pLegY(v)}h3M841,${pLegY(v)}h3`).attr("stroke","#fff").attr("stroke-width",.8);});

// ---------- I ----------
T(957,1209.5,"no.of",{size:22});T(957,1236,"peaks",{size:22});
const iNumY=[1271,1347,1428,1491,1581.4,1677.5];
iPeaks.forEach((n,i)=>T(i===2?1012.5:1011.7,iNumY[i],n,{size:20.5,anchor:"end"}));
T(1115.7,1201.7,"ATAC-seq",{size:19,anchor:"middle"});
svg.append("line").attr("x1",1048.7).attr("x2",1185.7).attr("y1",1216.8).attr("y2",1216.8).attr("stroke","#000").attr("stroke-width",1.1);
T(1071.7,1232,"WT",{size:20,anchor:"middle"});T(1166.7,1232,"cKO",{size:20,anchor:"middle"});T(1259,1232,"CUT&Tag",{size:19.5,anchor:"middle"});
const cATAC=d3.scaleLinear([0,800,1600],["#07077f","#7a7a4a","#f0f000"]);
const cCT=d3.scaleLinear([0,1600],["#ffffff","#fb6447"]);
const iTop=iBandEdges[0],iBot=iBandEdges[6];
const iHeats=[[1021.7,1113.3,iWT,cATAC],[1119,1209.3,iKO,cATAC],[1219.3,1309.3,iCT,cCT]];
iHeats.forEach(([a,b,m,c])=>{
 m.forEach((rows,bi)=>{const e=d3.range(0,rows.length+1).map(i=>i/rows.length);heat(a,b,iBandEdges[bi],iBandEdges[bi+1],e,rows,c,[1.2,rows.length>1?8:1.5]);});
 streaks(a,b,iTop,iBot,.1,2);
 iBandEdges.slice(1,-1).forEach(y=>svg.append("rect").attr("x",a).attr("y",y-1.5).attr("width",b-a).attr("height",3).attr("fill","#000"));
 svg.append("path").attr("d",`M${a},${iTop}H${b}V${iBot}`).attr("fill","none").attr("stroke","#111").attr("stroke-width",2);
 svg.append("line").attr("x1",a).attr("x2",a).attr("y1",iTop).attr("y2",iBot).attr("stroke",c===cCT?"#111":"#222").attr("stroke-width",c===cCT?1.6:.8);
 svg.append("line").attr("x1",b-30.5).attr("x2",b-1).attr("y1",1631.6).attr("y2",1631.6).attr("stroke","#000").attr("stroke-width",1);
 [a,(a+b)/2,b].forEach(t=>svg.append("line").attr("x1",t).attr("x2",t).attr("y1",iBot).attr("y2",iBot+3).attr("stroke","#000"));
});
[["-1.0",1023],["0",1066],["1.0kb",1102],["-1.0",1221],["0",1264],["1.0kb",1300.7]].forEach(([s,x])=>T(x,1739.4,s,{size:15.5,anchor:"middle"}));
function barI(x0,x1,color){svg.append("rect").attr("x",x0).attr("y",1759).attr("width",x1-x0).attr("height",16).attr("fill",grad(color,[0,1700],true)).attr("stroke","#000").attr("stroke-width",1.8);}
barI(1056,1164,cATAC);barI(1214,1322.3,cCT);
[[0,1058,1057],[800,1103,1100],[1600,1154,1143],[0,1218,1215],[800,1262.7,1258],[1600,1314,1301]].forEach(([v,x,t])=>{T(x,1790,v,{size:16,anchor:"middle"});svg.append("line").attr("x1",t).attr("x2",t).attr("y1",1775).attr("y2",1779).attr("stroke","#000");});
[["#f26522",1247.6,1408],["#00a651",1415,1548],["#7b3294",1551,1725]].forEach(([c,a,b])=>svg.append("rect").attr("x",1316.7).attr("y",a).attr("width",5.3).attr("height",b-a).attr("fill",c));
[["Il1rl1",1328,1239.4,"#f26522"],["Areg",1328,1262,"#f26522"],["Il13",1328,1282.6,"#f26522"],["lose",1329,1318.4,"#222"],["accessibility",1329,1341.8,"#222"],["Il12rb2",1332.7,1419.6,"#00a651"],["Ifng",1333,1439.4,"#00a651"],["gain",1329,1469,"#222"],["accessibility",1329,1491.6,"#222"],["shared",1327.7,1618,"#222"],["accessibility",1327.7,1641,"#222"]].forEach(([s,x,y,f])=>T(x,y,s,{size:19,fill:f}));
</script></body></html>
